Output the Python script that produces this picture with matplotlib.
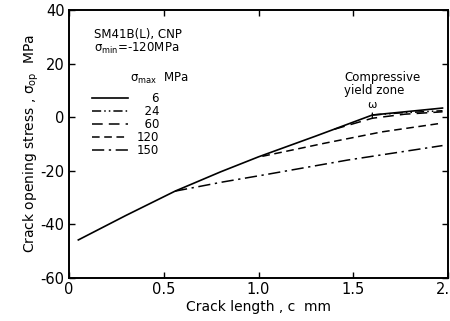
import matplotlib
matplotlib.use('Agg')
import matplotlib.pyplot as plt
import matplotlib.transforms as mtransforms

plt.rcParams['font.family'] = ['DejaVu Sans']
plt.rcParams['axes.unicode_minus'] = False

# sigma_max = 6 MPa (full curve)
c_6 = [0.05, 0.30, 0.56, 0.80, 1.00, 1.30, 1.60, 1.80, 1.97]
s_6 = [-45.8, -36.7, -27.6, -20.4, -14.8, -7.1, 0.8, 2.2, 3.4]
# other curves, from where they branch off
c_24 = [1.60, 1.75, 1.97]
s_24 = [0.8, 1.6, 2.4]
c_60 = [1.40, 1.60, 1.77, 1.97]
s_60 = [-4.5, -0.4, 1.1, 2.0]
c_120 = [1.02, 1.35, 1.65, 1.97]
s_120 = [-14.6, -9.7, -5.5, -2.2]
c_150 = [0.56, 0.81, 1.04, 1.47, 1.97]
s_150 = [-27.6, -24.2, -21.4, -16.0, -10.6]

labels = ['\u2007\u20076', '\u200724', '\u200760', '120', '150']
xtick_labels = ['0', '0.5', '1.0', '1.5', '2.']
omega_c = 1.60

fig = plt.figure(figsize=(4.5, 3.21), dpi=100)
ax = fig.add_axes([0.153, 0.134, 0.843, 0.835])

ax.plot(c_6, s_6, color='black', lw=1.2, ls='-', label=labels[0])
ax.plot(c_24, s_24, color='black', lw=1.1, ls=(0, (6, 2, 1, 2, 1, 2)), label=labels[1])
ax.plot(c_60, s_60, color='black', lw=1.1, ls=(0, (7, 4)), label=labels[2])
ax.plot(c_120, s_120, color='black', lw=1.1, ls=(0, (5, 3)), label=labels[3])
ax.plot(c_150, s_150, color='black', lw=1.1, ls=(0, (8, 3, 1.5, 3)), label=labels[4])

ax.set_xlim(0, 2.0)
ax.set_ylim(-60, 40)
ax.set_xticks([0, 0.5, 1.0, 1.5, 2.0])
ax.set_xticklabels(xtick_labels)
ax.set_yticks([-60, -40, -20, 0, 20, 40])
ax.tick_params(direction='in', length=4, width=1, top=True, right=True,
               labelsize=10.5, pad=3)
for sp in ax.spines.values():
    sp.set_linewidth(1.4)

# last x label is cut by the page edge in the original
last = ax.get_xticklabels()[-1]
last.set_ha('right')
last.set_transform(last.get_transform() +
                   mtransforms.ScaledTranslation(2 / 100, 0, fig.dpi_scale_trans))

ax.set_xlabel('Crack length , c  mm', fontsize=10, labelpad=2)
ax.set_ylabel('Crack opening stress , \u03c3$_{\\mathrm{op}}$  MPa', fontsize=10, labelpad=0)

ax.text(0.065, 0.91, 'SM41B(L), CNP', transform=ax.transAxes, fontsize=8.5, va='center')
ax.text(0.065, 0.855, '\u03c3$_{\\mathrm{min}}$=-120MPa', transform=ax.transAxes, fontsize=8.5,
        va='center')
ax.text(0.16, 0.745, '\u03c3$_{\\mathrm{max}}$  MPa', transform=ax.transAxes, fontsize=8.5,
        va='center')

leg = ax.legend(loc='upper left', bbox_to_anchor=(0.04, 0.725), frameon=False,
                fontsize=8.5, handlelength=3.0, handletextpad=0.8, labelspacing=0.0,
                borderpad=0.2)

ax.text(1.45, 7.6, 'Compressive\nyield zone', fontsize=8.5, ha='left', va='bottom',
        linespacing=1.0)
ax.annotate('\u03c9', xy=(omega_c, -0.5), xytext=(omega_c, 2.6), ha='center', va='bottom',
            fontsize=8,
            arrowprops=dict(arrowstyle='-', lw=0.9, shrinkA=0, shrinkB=0, color='black'))

fig.savefig('out.png', dpi=100)
